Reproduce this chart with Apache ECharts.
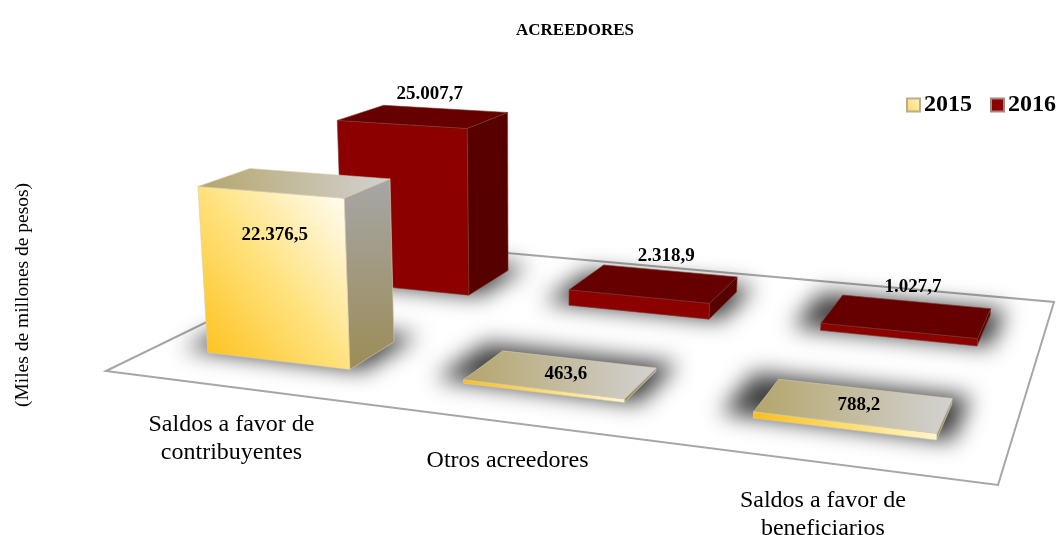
<!DOCTYPE html>
<html>
<head>
<meta charset="utf-8">
<style>
html, body { margin: 0; padding: 0; background: #fff; }
#main { width: 1057px; height: 535px; }
</style>
<script src="https://cdn.jsdelivr.net/npm/echarts@6/dist/echarts.min.js"></script>
</head>
<body>
<div id="main"></div>
<script>
// datos
var categories = ['Saldos a favor de\ncontribuyentes', 'Otros acreedores', 'Saldos a favor de\nbeneficiarios'];
var values2015 = [22376.5, 463.6, 788.2];
var values2016 = [25007.7, 2318.9, 1027.7];

var FONT = '"Liberation Serif", "Times New Roman", serif';

// piso en perspectiva: esquinas de la imagen del cuadrado unitario (u, v)
var p0 = [106, 371], p1 = [998, 485], p2 = [1054, 302], p3 = [373, 241];
// punto de fuga de las verticales y escala de altura
var vanish = [525, 5700];
var heightScale = 1.394e-4;

var dx1 = p1[0] - p2[0], dx2 = p3[0] - p2[0], sx = p0[0] - p1[0] + p2[0] - p3[0];
var dy1 = p1[1] - p2[1], dy2 = p3[1] - p2[1], sy = p0[1] - p1[1] + p2[1] - p3[1];
var den = dx1 * dy2 - dx2 * dy1;
var g = (sx * dy2 - dx2 * sy) / den;
var h = (dx1 * sy - sx * dy1) / den;
var a = p1[0] - p0[0] + g * p1[0], b = p3[0] - p0[0] + h * p3[0];
var d = p1[1] - p0[1] + g * p1[1], e = p3[1] - p0[1] + h * p3[1];

function project(u, v, px) {
    var s = -(px || 0) * heightScale;
    var w = g * u + h * v + 1 + s;
    return [
        (a * u + b * v + p0[0] + s * vanish[0]) / w,
        (d * u + e * v + p0[1] + s * vanish[1]) / w
    ];
}

function formatValue(val) {
    var parts = val.toFixed(1).split('.');
    return parts[0].replace(/\B(?=(\d{3})+$)/g, '.') + ',' + parts[1];
}

function grad(x, y, x2, y2, stops) {
    return {
        type: 'linear', x: x, y: y, x2: x2, y2: y2,
        colorStops: stops.map(function (c, i) {
            return { offset: i / (stops.length - 1), color: c };
        })
    };
}

var style2015 = {
    depth: [0.15, 0.32],
    front: grad(0, 1, 1.2, 0.2, ['#FDBE12', '#FFE27E', '#FFFFFF']),
    top: grad(0, 0, 1, 0, ['#B5A56B', '#D2D2D2']),
    side: grad(0, 0, 0, 1, ['#A6A6A6', '#9C8C56']),
    line: '#D8D0B0'
};
var style2016 = {
    depth: [0.655, 0.86],
    front: '#8C0000',
    top: '#660000',
    side: '#560000',
    line: '#7A3A30'
};

// la sombra se dibuja fuera de pantalla y solo se ve su desenfoque
var SHADOW_SHIFT = 3000;

function barRenderer(st) {
    return function (params, api) {
        var cs = params.coordSys;
        var val = api.value(1);
        var center = api.coord([api.value(0), 0]);
        var hpx = api.size([0, val])[1];
        var u = (center[0] - cs.x) / cs.width;
        var half = api.size([1, 0])[0] / cs.width * 0.285;
        var v0 = st.depth[0], v1 = st.depth[1];

        var fl = project(u - half, v0), fr = project(u + half, v0), br = project(u + half, v1);
        var tfl = project(u - half, v0, hpx), tfr = project(u + half, v0, hpx);
        var tbr = project(u + half, v1, hpx), tbl = project(u - half, v1, hpx);

        var shadow = [
            project(u - half - 0.036, v0 + 0.005),
            project(u + half + 0.016, v0 + 0.005),
            project(u + half + 0.016, v1 + 0.05),
            project(u - half - 0.036, v1 + 0.05)
        ].map(function (pt) { return [pt[0] - SHADOW_SHIFT, pt[1]]; });
        var lw = 0.6;
        var labelPos;
        if (st === style2016) {
            // arriba del borde trasero
            labelPos = project(u, v1, hpx);
            labelPos[1] -= 15;
            labelPos[0] -= 2 + hpx * 0.052;
        } else if (hpx > 100) {
            labelPos = project(u, v0, hpx * 0.75);
            labelPos[0] += 3;
        } else {
            labelPos = project(u, (v0 + v1) / 2, hpx);
            labelPos[0] += 5;
        }
        return {
            type: 'group',
            children: [
                { type: 'polygon', silent: true, shape: { points: shadow }, style: { fill: '#000', shadowBlur: 22, shadowColor: 'rgba(0,0,0,0.75)', shadowOffsetX: SHADOW_SHIFT } },
                { type: 'polygon', silent: true, shape: { points: [fr, br, tbr, tfr] }, style: { fill: st.side, stroke: st.line, lineWidth: lw } },
                { type: 'polygon', silent: true, shape: { points: [fl, fr, tfr, tfl] }, style: { fill: st.front, stroke: st.line, lineWidth: lw } },
                { type: 'polygon', silent: true, shape: { points: [tfl, tfr, tbr, tbl] }, style: { fill: st.top, stroke: st.line, lineWidth: lw } },
                { type: 'text', silent: true, style: { x: labelPos[0], y: labelPos[1], text: formatValue(val), align: 'center', verticalAlign: 'middle', fill: '#000', font: 'bold 19px ' + FONT } }
            ]
        };
    };
}

var chart = echarts.init(document.getElementById('main'));
chart.setOption({
    animation: false,
    title: {
        text: 'ACREEDORES',
        left: 511,
        top: 17,
        textStyle: { fontFamily: FONT, fontSize: 17, fontWeight: 'bold', color: '#000' }
    },
    legend: {
        data: ['2015', '2016'],
        right: -4,
        top: 88,
        icon: 'rect',
        itemWidth: 13,
        itemHeight: 13,
        itemGap: 18,
        selectedMode: false,
        textStyle: { fontFamily: FONT, fontSize: 24, fontWeight: 'bold', color: '#000', padding: [0, 0, 0, -1] }
    },
    // ejes ocultos: solo dan las escalas que luego se proyectan al piso
    grid: { left: 60, top: 145, width: 900, height: 300 },
    xAxis: { type: 'category', data: categories, show: false },
    yAxis: {
        type: 'value',
        min: 0,
        max: 30000,
        name: '(Miles de millones de pesos)',
        nameLocation: 'middle',
        nameGap: 27,
        nameTextStyle: { fontFamily: FONT, fontSize: 19.5, color: '#000' },
        axisLine: { show: false },
        axisTick: { show: false },
        axisLabel: { show: false },
        splitLine: { show: false }
    },
    series: [
        {
            type: 'custom',
            silent: true,
            data: [[0, 0]],
            renderItem: function () {
                return {
                    type: 'polygon',
                    silent: true,
                    shape: { points: [project(0, 0), project(1, 0), project(1, 1), project(0, 1)] },
                    style: { fill: '#fff', stroke: '#A6A6A6', lineWidth: 2 }
                };
            }
        },
        {
            name: '2016',
            type: 'custom',
            silent: true,
            itemStyle: { color: '#8C0000', borderColor: '#A08A80', borderWidth: 1 },
            data: values2016.map(function (v, i) { return [i, v]; }),
            renderItem: barRenderer(style2016)
        },
        {
            name: '2015',
            type: 'custom',
            silent: true,
            itemStyle: { color: grad(0, 1, 1, 0, ['#FBD25A', '#FFF6D0']), borderColor: '#B8AE88', borderWidth: 1 },
            data: values2015.map(function (v, i) { return [i, v]; }),
            renderItem: barRenderer(style2015)
        },
        {
            type: 'custom',
            silent: true,
            data: categories.map(function (c, i) { return [i, 0]; }),
            renderItem: function (params, api) {
                var cs = params.coordSys;
                var i = api.value(0);
                var u = (api.coord([i, 0])[0] - cs.x) / cs.width;
                var p = project(u, 0);
                return {
                    type: 'text',
                    silent: true,
                    style: {
                        x: p[0],
                        y: p[1] + 24,
                        text: categories[i],
                        align: 'center',
                        verticalAlign: 'top',
                        fill: '#000',
                        font: '24px ' + FONT,
                        lineHeight: 28
                    }
                };
            }
        }
    ]
});
</script>
</body>
</html>
